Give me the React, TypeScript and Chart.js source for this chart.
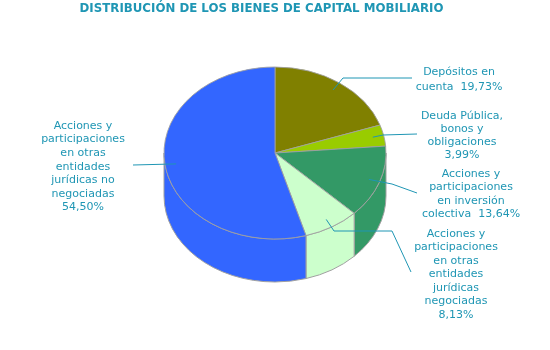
import React, { useEffect, useRef } from 'react';
import { Chart, registerables } from 'chart.js';

Chart.register(...registerables);

const chartTitle = 'DISTRIBUCIÓN DE LOS BIENES DE CAPITAL MOBILIARIO';
const categories = [
  'Depósitos en cuenta',
  'Deuda Pública, bonos y obligaciones',
  'Acciones y participaciones en inversión colectiva',
  'Acciones y participaciones en otras entidades jurídicas negociadas',
  'Acciones y participaciones en otras entidades jurídicas no negociadas',
];
const values = [19.73, 3.99, 13.64, 8.13, 54.5];
const colors = ['#808000', '#99CC00', '#339966', '#CCFFCC', '#3366FF'];
const labelLines = [
  ['Depósitos en', 'cuenta  {p}'],
  ['Deuda Pública,', 'bonos y', 'obligaciones', '{p}'],
  ['Acciones y', 'participaciones', 'en inversión', 'colectiva  {p}'],
  ['Acciones y', 'participaciones', 'en otras', 'entidades', 'jurídicas', 'negociadas', '{p}'],
  ['Acciones y', 'participaciones', 'en otras', 'entidades', 'jurídicas no', 'negociadas', '{p}'],
];

// layout / style constants
const TEXT_COLOR = '#1f96b4';
const BORDER_COLOR = '#a0a0a0';
const TILT = 86 / 111;
const DEPTH = 43;
const RADIUS = 111;
const TITLE_POS = { x: 261.5, y: 9 };
const labelLayout = [
  { x: 459, y: 72, lh: 15, path: [[343, 78], [412, 78]] },
  { x: 462, y: 116, lh: 13.2, path: [[383, 135], [417, 134]] },
  { x: 471, y: 174, lh: 13.5, path: [[392, 184], [417, 193]] },
  { x: 456, y: 234, lh: 13.5, path: [[334, 231], [392, 231], [411, 272]] },
  { x: 83, y: 126, lh: 13.6, path: [[133, 165]] },
];

const fmt = (v: number) => v.toFixed(2).replace('.', ',') + '%';

const pie3d = {
  id: 'pie3d',
  beforeDatasetsDraw(chart: any) {
    const arcs = chart.getDatasetMeta(0).data;
    if (!arcs.length) return;
    const { x: cx, y: cy, outerRadius: r } = arcs[0].getProps(['x', 'y', 'outerRadius'], true);
    const ry = r * TILT;
    const ctx = chart.ctx;
    ctx.save();
    arcs.forEach((arc: any, i: number) => {
      const { startAngle, endAngle } = arc.getProps(['startAngle', 'endAngle'], true);
      const a = Math.max(startAngle, 0);
      const b = Math.min(endAngle, Math.PI);
      if (b <= a) return;
      ctx.beginPath();
      ctx.ellipse(cx, cy, r, ry, 0, a, b, false);
      ctx.lineTo(cx + r * Math.cos(b), cy + ry * Math.sin(b) + DEPTH);
      ctx.ellipse(cx, cy + DEPTH, r, ry, 0, b, a, true);
      ctx.closePath();
      ctx.fillStyle = colors[i];
      ctx.fill();
      ctx.strokeStyle = BORDER_COLOR;
      ctx.lineWidth = 1;
      ctx.stroke();
    });
    ctx.restore();
    ctx.save();
    ctx.translate(cx, cy);
    ctx.scale(1, TILT);
    ctx.translate(-cx, -cy);
  },
  afterDatasetsDraw(chart: any) {
    const ctx = chart.ctx;
    ctx.restore();
    const arcs = chart.getDatasetMeta(0).data;
    ctx.save();
    ctx.strokeStyle = TEXT_COLOR;
    ctx.fillStyle = TEXT_COLOR;
    ctx.lineWidth = 1;
    ctx.textAlign = 'center';
    ctx.textBaseline = 'middle';
    ctx.font = 'bold 11.8px "DejaVu Sans", Verdana, sans-serif';
    ctx.fillText(chartTitle, TITLE_POS.x, TITLE_POS.y);
    ctx.font = '11px "DejaVu Sans", Verdana, sans-serif';
    arcs.forEach((arc: any, i: number) => {
      const { x: cx, y: cy, outerRadius: r, startAngle, endAngle } = arc.getProps(
        ['x', 'y', 'outerRadius', 'startAngle', 'endAngle'],
        true
      );
      const mid = (startAngle + endAngle) / 2;
      const sx = cx + r * 0.9 * Math.cos(mid);
      const sy = cy + r * 0.9 * TILT * Math.sin(mid);
      const lay = labelLayout[i];
      ctx.beginPath();
      ctx.moveTo(sx, sy);
      lay.path.forEach((p) => ctx.lineTo(p[0], p[1]));
      ctx.stroke();
      labelLines[i].forEach((line, j) => {
        ctx.fillText(line.replace('{p}', fmt(values[i])), lay.x, lay.y + j * lay.lh);
      });
    });
    ctx.restore();
  },
};

export default function App() {
  const ref = useRef<HTMLCanvasElement>(null);
  useEffect(() => {
    if (!ref.current) return;
    const chart = new Chart(ref.current, {
      type: 'pie',
      data: {
        labels: categories,
        datasets: [
          {
            data: values,
            backgroundColor: colors,
            borderColor: BORDER_COLOR,
            borderWidth: 1,
            radius: RADIUS,
          } as any,
        ],
      },
      options: {
        responsive: false,
        animation: false,
        layout: { padding: { top: 16.4, bottom: 60.4, left: 0, right: 0 } },
        plugins: {
          legend: { display: false },
          tooltip: { enabled: false },
          title: { display: false },
        },
      },
      plugins: [pie3d],
    });
    return () => chart.destroy();
  }, []);
  return (
    <div style={{ position: 'fixed', left: 0, top: 0, width: 550, height: 350, background: '#fff' }}>
      <canvas ref={ref} width={550} height={350} />
    </div>
  );
}
